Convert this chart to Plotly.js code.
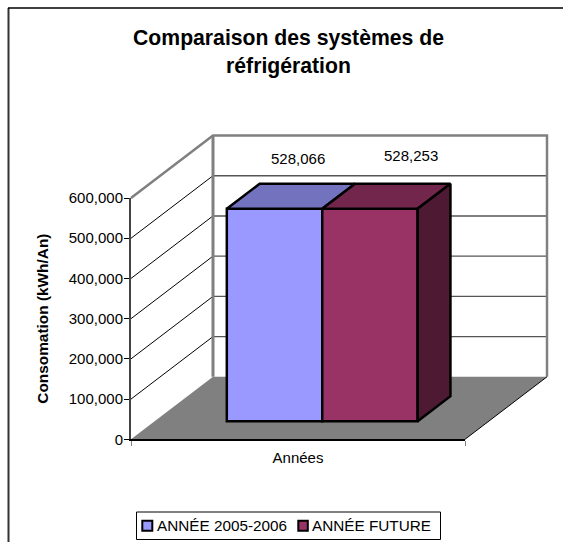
<!DOCTYPE html>
<html><head><meta charset="utf-8">
<script src="https://cdn.plot.ly/plotly-3.0.1.min.js"></script>
<style>html,body{margin:0;padding:0;background:#fff}</style></head>
<body><div id="chart" style="width:563px;height:542px"></div>
<script>
const titleText = 'Comparaison des systèmes de<br>réfrigération';
const seriesNames = ['ANNÉE 2005-2006', 'ANNÉE FUTURE'];
const seriesValues = [528066, 528253];
const seriesCenters = [0.3585, 0.6442];
const frontColors = ['#9999FF', '#993366'];
const topColors = ['#7272BE', '#72264C'];
const sideColors = ['#4D2633', '#4D1933'];
const yTicks = [0, 100000, 200000, 300000, 400000, 500000, 600000];
const FONT = 'Liberation Sans, Arial, sans-serif';

// pixel geometry of the projection
const W = 563, H = 542, X0 = 131, X1 = 465, Y0 = 439.3, Y6 = 198, PAD = 6;
const pxPerX = X1 - X0, pxPerY = (Y0 - Y6) / 600000;
const depthX = 82 / pxPerX, depthY = 62.5 / pxPerY;       // full depth in data units
const barWidth = 0.2857, barD0 = 0.29, barD1 = 0.69;
const P = (x, v, d) => [x + d * depthX, v + d * depthY];
const path = pts => 'M' + pts.map(p => p[0] + ' ' + p[1]).join(' L') ;

const shapes = [];
const add = (pts, close, s) => shapes.push(Object.assign({type:'path', xref:'x', yref:'y', layer:'below',
  path: path(pts) + (close ? ' Z' : '')}, s));
// floor
add([P(0,0,0), P(1,0,0), P(1,0,1), P(0,0,1)], true, {fillcolor:'#808080', line:{width:0}});
// gridlines on side wall and back wall
yTicks.slice(1, -1).forEach(v => {
  add([P(0,v,0), P(0,v,1)], false, {line:{color:'#000', width:1}});
  add([P(0,v,1), P(1,v,1)], false, {line:{color:'#555', width:1.4}});
});
// frame of the walls
add([P(0,600000,0), P(0,600000,1), P(1,600000,1), P(1,0,1)], false, {line:{color:'#808080', width:2.5}});
add([P(0,0,1), P(0,600000,1)], false, {line:{color:'#808080', width:3}});
add([P(1,0,0), P(1,0,1)], false, {line:{color:'#000', width:1}});
// outer chart border (left and top only)
shapes.push({type:'line', xref:'paper', yref:'paper', x0:8.5/W, x1:8.5/W, y0:0, y1:1-8/H, line:{color:'#333', width:2}});
shapes.push({type:'line', xref:'paper', yref:'paper', x0:8/W, x1:1, y0:1-8/H, y1:1-8/H, line:{color:'#000', width:1.5}});

const base = P(0, 0, barD0)[1];
const traces = [];
seriesValues.forEach((v, i) => {
  const c = seriesCenters[i];
  traces.push({type:'bar', name:seriesNames[i], x:[P(c,0,barD0)[0]], y:[v], base:[base], width:[barWidth],
    marker:{color:frontColors[i], line:{color:'#000', width:2.5}}, showlegend:false, hoverinfo:'skip'});
});
seriesValues.forEach((v, i) => {
  const c = seriesCenters[i], l = c - barWidth / 2, r = c + barWidth / 2;
  const poly = (pts, col) => traces.push({type:'scatter', mode:'lines', x:pts.map(p=>p[0]), y:pts.map(p=>p[1]),
    fill:'toself', fillcolor:col, line:{color:'#000', width:2.5}, showlegend:false, hoverinfo:'skip'});
  poly([P(l,v,barD0), P(r,v,barD0), P(r,v,barD1), P(l,v,barD1), P(l,v,barD0)], topColors[i]);
  if (i === seriesValues.length - 1)
    poly([P(r,0,barD0), P(r,v,barD0), P(r,v,barD1), P(r,0,barD1), P(r,0,barD0)], sideColors[i]);
});
// carrier trace for the visible axes
traces.push({type:'scatter', mode:'none', x:[0], y:[0], xaxis:'x2', yaxis:'y2', showlegend:false, hoverinfo:'skip'});

// legend built from swatches and labels
const annotations = [];
const legendY = 1 - 525.7 / H;
shapes.push({type:'rect', xref:'paper', yref:'paper', x0:136.5/W, x1:440.5/W, y0:1-539.5/H, y1:1-512/H,
  fillcolor:'#fff', line:{color:'#000', width:1}});
[[142.3, 154.5, 10], [298.3, 309.5, 9.5]].forEach((px, i) => {
  shapes.push({type:'rect', xref:'paper', yref:'paper', x0:px[0]/W, x1:(px[0]+px[2])/W, y0:legendY-5/H, y1:legendY+5/H,
    fillcolor:frontColors[i], line:{color:'#000', width:2}});
  annotations.push({xref:'paper', yref:'paper', x:px[1]/W, y:legendY, xanchor:'left', yanchor:'middle', showarrow:false,
    text:seriesNames[i], font:{family:FONT, size:15.3, color:'#000'}});
});
// data labels
[[298, 158], [410.5, 155.5]].forEach((px, i) => {
  annotations.push({xref:'paper', yref:'paper', x:px[0]/W, y:1-px[1]/H, xanchor:'center', yanchor:'middle', showarrow:false,
    text:seriesValues[i].toLocaleString('en-US'), font:{family:FONT, size:15, color:'#000'}});
});

const hxMin = -PAD / pxPerX, hxMax = (416 + PAD) / pxPerX;
const hyMin = -PAD / pxPerY, hyMax = (Y0 - 136 + PAD) / pxPerY;
const layout = {
  width:W, height:H, autosize:false, margin:{l:0,r:0,t:0,b:0}, paper_bgcolor:'#fff', plot_bgcolor:'rgba(0,0,0,0)',
  showlegend:false, barmode:'overlay', hovermode:false,
  title:{text:titleText, x:288.5/W, xanchor:'center', y:1-45/H, yanchor:'top', font:{family:FONT, size:21.2, color:'#000', weight:'bold'}},
  xaxis:{domain:[(X0-PAD)/W, (X0+416+PAD)/W], range:[hxMin, hxMax], visible:false, fixedrange:true},
  yaxis:{domain:[1-(Y0+PAD)/H, 1-(136-PAD)/H], range:[hyMin, hyMax], visible:false, fixedrange:true},
  xaxis2:{domain:[X0/W, X1/W], range:[0,1], anchor:'y2', showgrid:false, zeroline:false, showline:true, linecolor:'#000', linewidth:1.5,
    tickmode:'array', tickvals:[0,1], ticktext:['',''], ticks:'outside', ticklen:5, tickcolor:'#808080', tickwidth:1,
    title:{text:'Années', font:{family:FONT, size:15, color:'#000'}, standoff:5}, automargin:false, fixedrange:true},
  yaxis2:{domain:[1-Y0/H, 1-Y6/H], range:[0,600000], anchor:'x2', showgrid:false, zeroline:false, showline:true, linecolor:'#444', linewidth:2,
    tickmode:'array', tickvals:yTicks, tickformat:',', ticks:'outside', ticklen:5, tickcolor:'#000', tickwidth:1, ticklabelstandoff:-2,
    tickfont:{family:FONT, size:15, color:'#000'},
    title:{text:'Consomation (kWh/An)', font:{family:FONT, size:15.4, color:'#000', weight:'bold'}, standoff:16}, automargin:false, fixedrange:true},
  shapes, annotations
};
Plotly.newPlot('chart', traces, layout, {displayModeBar:false, staticPlot:true});
</script></body></html>
